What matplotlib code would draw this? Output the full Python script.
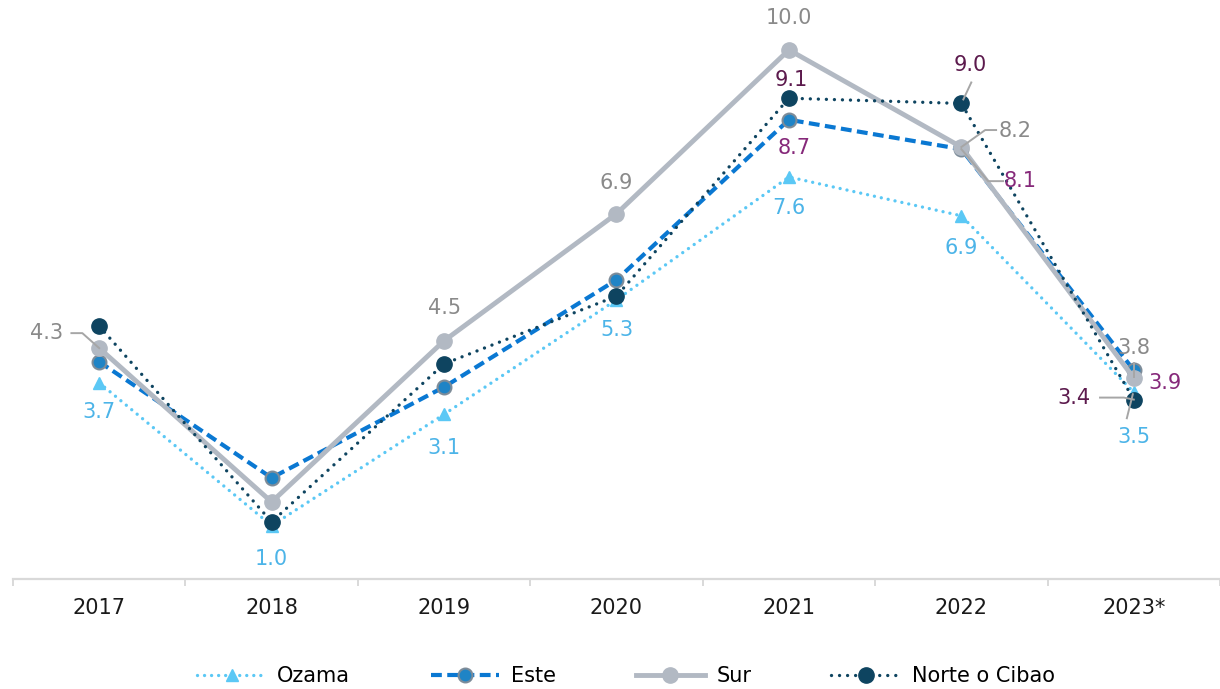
import matplotlib
matplotlib.use('Agg')
import matplotlib.pyplot as plt
import numpy as np

plt.rcParams['font.family'] = ['DejaVu Sans']

# data
years = ['2017', '2018', '2019', '2020', '2021', '2022', '2023*']
ozama = [3.68, 0.96, 3.08, 5.26, 7.6, 6.86, 3.5]
este = [4.08, 1.87, 3.6, 5.64, 8.69, 8.13, 3.92]
sur = [4.34, 1.41, 4.48, 6.9, 10.02, 8.17, 3.77]
norte = [4.76, 1.03, 4.04, 5.33, 9.1, 9.0, 3.36]

# label placement: index -> (dx, dy, leader) in pixels, dy downwards
ozama_lab = {0: (0, 29, None), 1: (0, 33, None), 2: (0, 34, None), 3: (0, 30, None),
             4: (0, 31, None), 5: (0, 32, None), 6: (0, 45, [(-7, 26), (-1, 2)])}
este_lab = {4: (5, 28, None), 5: (59, 32, [(0, 0), (27, 32), (42, 32)]), 6: (31, 13, None)}
sur_lab = {0: (-53, -15, [(0, 0), (-17, -15), (-28, -15)]), 2: (0, -33, None),
           3: (0, -31, None), 4: (0, -32, None),
           5: (54, -16, [(0, 0), (24, -17), (35, -17)]), 6: (0, -30, [(0, -1), (0, -15)])}
norte_lab = {4: (2, -18, None), 5: (9, -38, [(10, -21), (2, -4)]),
             6: (-60, -2, [(-34, -2), (-10, -2), (0, 0)])}

fig = plt.figure(figsize=(12.2, 6.89), dpi=100)
ax = fig.add_axes([13/1220, 110/689, 1207/1220, 569/689])
ax.set_xlim(-0.5, -0.5 + 1207/173.7)
ax.set_ylim(-0.057, 10.78)

x = np.arange(len(years))

ax.plot(x, ozama, color='#5bc8f5', lw=2.4, linestyle=(0, (0.01, 2.1)),
        dash_capstyle='round', marker='^', ms=9, mfc='#5bc8f5', mec='#5bc8f5',
        label='Ozama', zorder=2)
ax.plot(x, este, color='#0a78d2', lw=3.0, linestyle=(0, (2.6, 1.3)),
        marker='o', ms=10, mfc='#1f84c6', mec='#7d8c99', mew=1.5,
        label='Este', zorder=3)
ax.plot(x, sur, color='#b2b9c3', lw=3.5, linestyle='-',
        marker='o', ms=11, mfc='#b2b9c3', mec='#b2b9c3',
        label='Sur', zorder=4)
ax.plot(x, norte, color='#0e4460', lw=2.4, linestyle=(0, (0.01, 2.4)),
        dash_capstyle='round', marker='o', ms=11, mfc='#0e4460', mec='#0e4460',
        label='Norte o Cibao', zorder=5)


def put_labels(vals, specs, color):
    for i, (dx, dy, leader) in specs.items():
        if leader:
            base = ax.transData.transform((x[i], vals[i]))
            pts = [ax.transData.inverted().transform((base[0] + px, base[1] - py))
                   for px, py in leader]
            pts = np.array(pts)
            ax.plot(pts[:, 0], pts[:, 1], color='#a6a6a6', lw=1.4,
                    clip_on=False, zorder=6)
        ax.annotate('%.1f' % vals[i], (x[i], vals[i]), xytext=(dx, -dy),
                    textcoords='offset pixels', ha='center', va='center',
                    fontsize=15, color=color, zorder=7, annotation_clip=False)


put_labels(ozama, ozama_lab, '#4cb4e8')
put_labels(este, este_lab, '#86297a')
put_labels(sur, sur_lab, '#8a8a8a')
put_labels(norte, norte_lab, '#5c1a4d')

for s in ['top', 'right', 'left']:
    ax.spines[s].set_visible(False)
ax.spines['bottom'].set_color('#d9d9d9')
ax.spines['bottom'].set_linewidth(1.6)
ax.set_yticks([])
ax.set_xticks(x)
ax.set_xticklabels(years, fontsize=15, color='#1a1a1a')
ax.set_xticks(np.arange(-0.5, 7, 1), minor=True)
ax.tick_params(axis='x', which='major', length=0, pad=14)
ax.tick_params(axis='x', which='minor', length=5, width=1.4, color='#d9d9d9')

fig.legend(loc='center', bbox_to_anchor=(0.513, 0.019), ncol=4, frameon=False,
           fontsize=15, handlelength=3.3, handletextpad=0.55, columnspacing=3.85,
           numpoints=1)

fig.savefig('out.png', dpi=100)
